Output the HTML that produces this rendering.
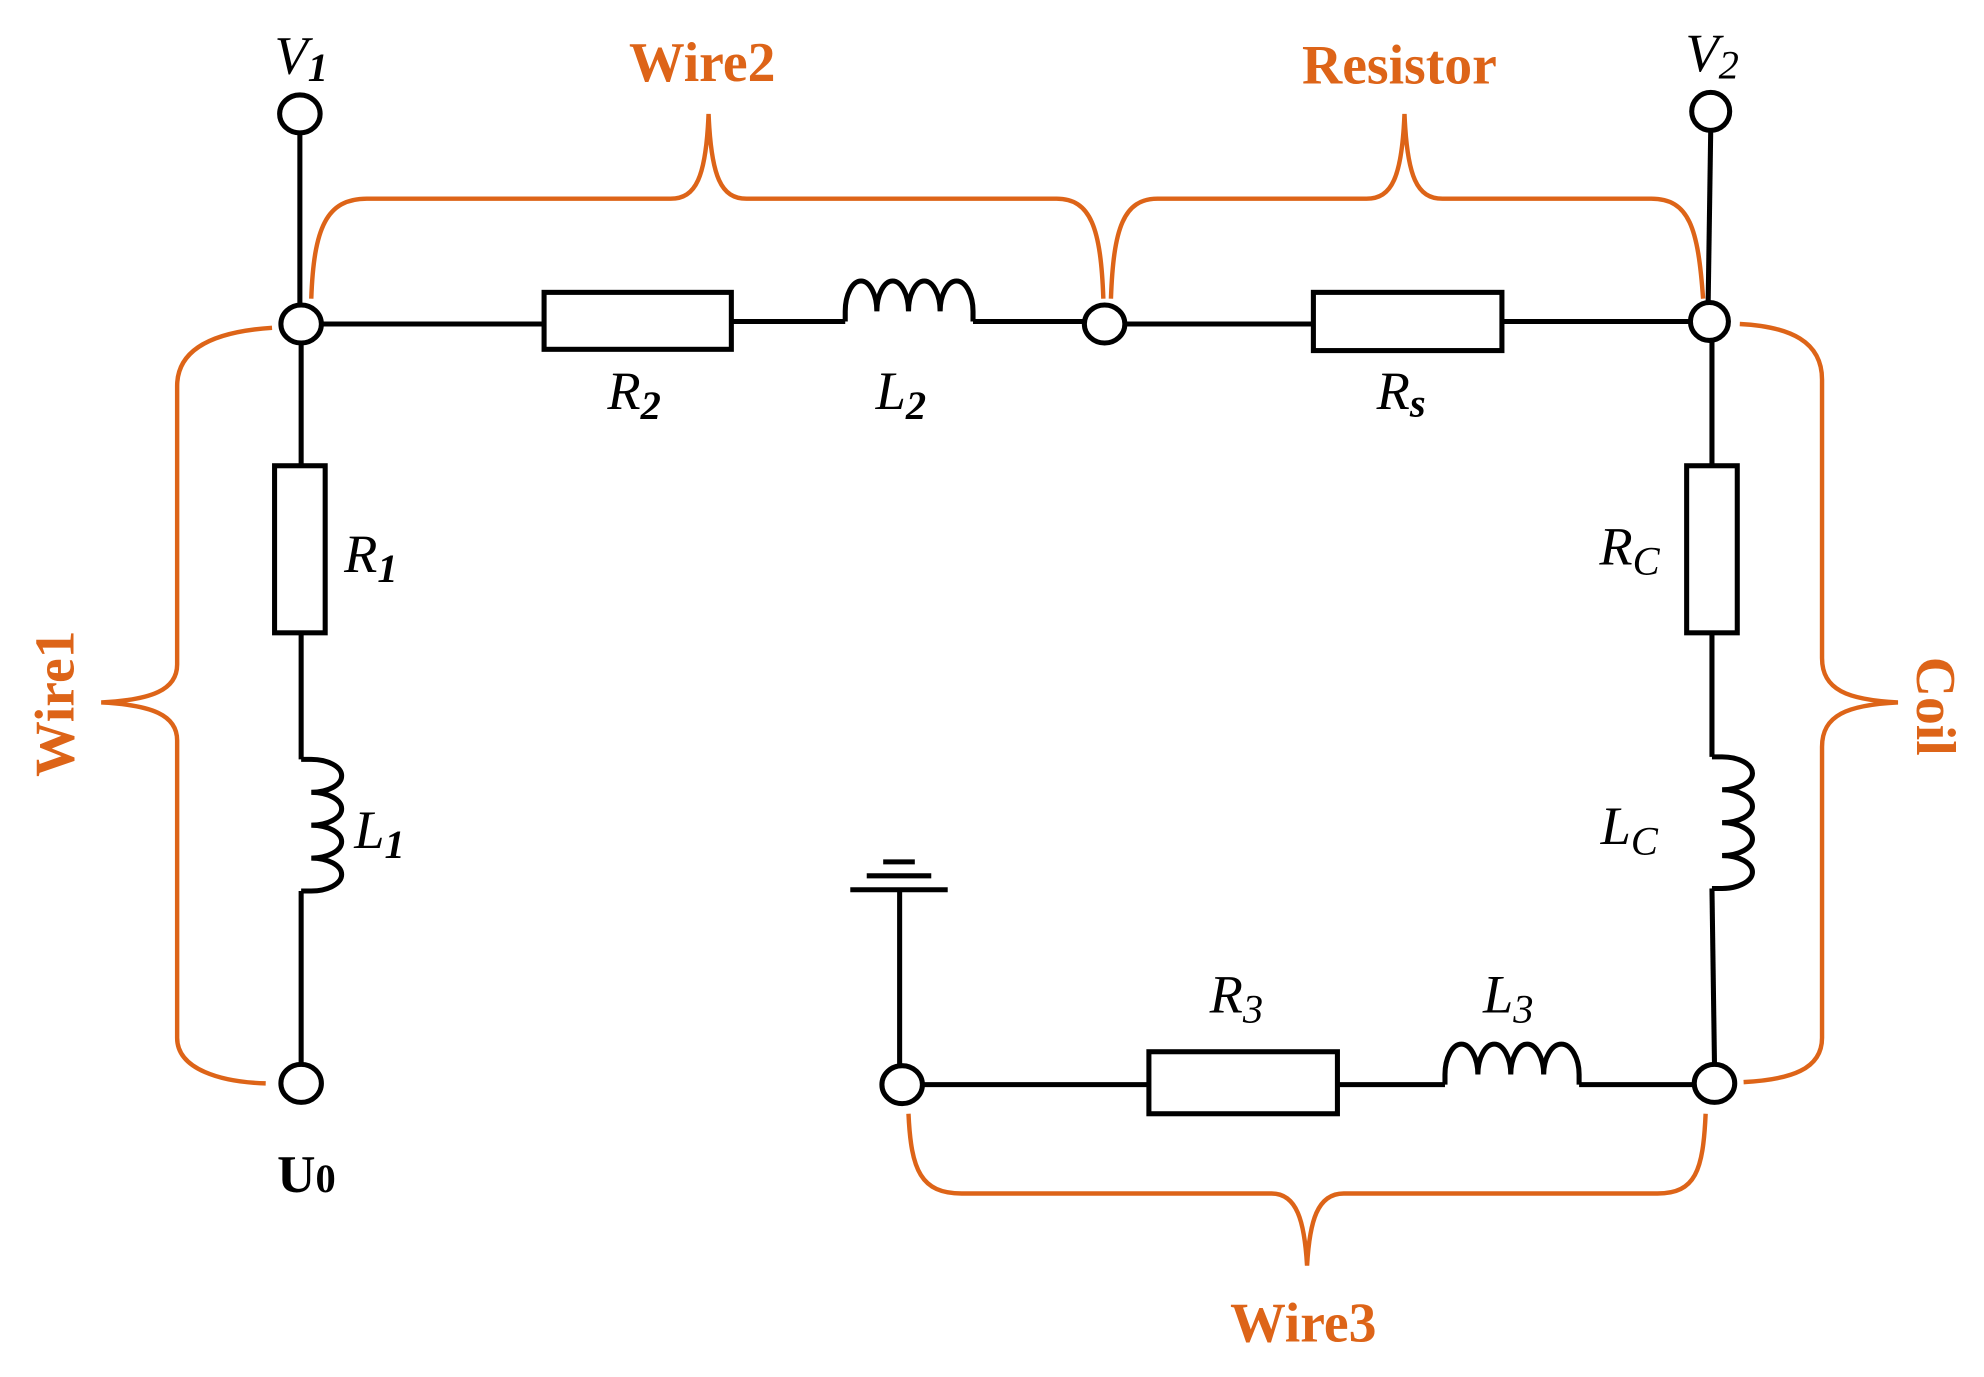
<!DOCTYPE html>
<html><head><meta charset="utf-8"><style>html,body{margin:0;padding:0;background:#fff}svg{display:block}</style></head>
<body>
<svg width="1984" height="1377" viewBox="0 0 1568 1088" preserveAspectRatio="none" xmlns="http://www.w3.org/2000/svg">
<g fill="none" stroke="#000" stroke-width="4">
<line x1="237" y1="105" x2="237" y2="241"/>
<line x1="253" y1="256" x2="430" y2="256"/>
<rect x="430" y="231" width="148" height="45"/>
<line x1="578" y1="254" x2="668" y2="254"/>
<path d="M668 254 v-8 a12.5 24 0 0 1 25 0 a12.5 24 0 0 1 25 0 a12.5 24 0 0 1 25 0 a13 24 0 0 1 26 0 v8"/>
<line x1="769" y1="254" x2="858" y2="254"/>
<line x1="888" y1="256" x2="1038" y2="256"/>
<rect x="1038" y="231" width="149" height="46"/>
<line x1="1187" y1="254" x2="1336" y2="254"/>
<line x1="1352" y1="104" x2="1350" y2="239"/>
<line x1="238" y1="272" x2="238" y2="368"/>
<rect x="217" y="368" width="40" height="132"/>
<line x1="238" y1="500" x2="238" y2="600"/>
<path d="M238 600 h8 a24 13 0 0 1 0 26 a24 13 0 0 1 0 26 a24 13 0 0 1 0 26 a24 13 0 0 1 0 26 h-8"/>
<line x1="238" y1="704" x2="238" y2="841"/>
<line x1="1353" y1="270" x2="1353" y2="368"/>
<rect x="1333" y="368" width="40" height="132"/>
<line x1="1353" y1="500" x2="1353" y2="598"/>
<path d="M1353 598 h8 a24 13 0 0 1 0 26 a24 13 0 0 1 0 26 a24 13 0 0 1 0 26 a24 13 0 0 1 0 26 h-8"/>
<line x1="1353" y1="702" x2="1355" y2="841"/>
<line x1="728" y1="857" x2="908" y2="857"/>
<rect x="908" y="831" width="149" height="49"/>
<line x1="1057" y1="857" x2="1142" y2="857"/>
<path d="M1142 857 v-8 a13 24 0 0 1 26 0 a13 24 0 0 1 26 0 a13 24 0 0 1 26 0 a14 24 0 0 1 28 0 v8"/>
<line x1="1248" y1="857" x2="1340" y2="857"/>
<line x1="711" y1="842" x2="711" y2="703"/>
<line x1="672" y1="703" x2="749" y2="703"/>
<line x1="685" y1="692" x2="736" y2="692"/>
<line x1="698" y1="681" x2="723" y2="681"/>
<g fill="#fff">
<ellipse cx="237" cy="90" rx="16" ry="15"/>
<ellipse cx="238" cy="256" rx="16" ry="15"/>
<ellipse cx="873" cy="256" rx="16" ry="15"/>
<ellipse cx="1351" cy="254" rx="15" ry="15"/>
<ellipse cx="1352" cy="88" rx="15" ry="15"/>
<ellipse cx="238" cy="856" rx="16" ry="15"/>
<ellipse cx="713" cy="857" rx="16" ry="15"/>
<ellipse cx="1355" cy="856" rx="16" ry="15"/>
</g>
</g>
<g fill="none" stroke="#dd6418" stroke-width="3.5">
<path d="M246 236 C248 180 258 157 290 157 L530 157 C550 157 558 140 560 90 C562 140 570 157 590 157 L835 157 C862 157 870 180 872 236"/>
<path d="M878 236 C880 180 888 157 915 157 L1080 157 C1100 157 1108 140 1110 90 C1112 140 1120 157 1140 157 L1305 157 C1335 157 1342 180 1346 236"/>
<path d="M215 259 C170 262 140 275 140 305 L140 525 C140 545 120 553 80 555 C120 557 140 565 140 585 L140 820 C140 845 175 855 210 856"/>
<path d="M1375 256 C1415 258 1440 270 1440 300 L1440 520 C1440 545 1460 553 1500 555 C1460 557 1440 565 1440 590 L1440 820 C1440 845 1415 853 1378 855"/>
<path d="M718 880 C720 925 728 943 760 943 L1005 943 C1025 943 1031 965 1033 1000 C1035 965 1041 943 1062 943 L1310 943 C1340 943 1346 925 1348 880"/>
</g>
<g font-family="Liberation Serif, serif" font-size="43" font-style="italic" fill="#000">
<text x="217" y="58">V<tspan font-size="32" font-weight="bold" dy="6">1</tspan></text>
<text x="1332" y="56">V<tspan font-size="32" dy="6">2</tspan></text>
<text x="480" y="323">R<tspan font-size="32" font-weight="bold" dy="8">2</tspan></text>
<text x="692" y="323">L<tspan font-size="32" font-weight="bold" dy="8">2</tspan></text>
<text x="1088" y="323">R<tspan font-size="32" font-weight="bold" dy="6">s</tspan></text>
<text x="272" y="452">R<tspan font-size="32" font-weight="bold" dy="8">1</tspan></text>
<text x="280" y="670">L<tspan font-size="32" font-weight="bold" dy="8">1</tspan></text>
<text x="1264" y="446">R<tspan font-size="32" dy="8">C</tspan></text>
<text x="1265" y="667">L<tspan font-size="32" dy="8">C</tspan></text>
<text x="956" y="800">R<tspan font-size="32" dy="8">3</tspan></text>
<text x="1172" y="800">L<tspan font-size="32" dy="8">3</tspan></text>
</g>
<text x="219" y="942" font-family="Liberation Serif, serif" font-size="42" font-weight="bold" fill="#000">U<tspan font-size="32">0</tspan></text>
<g font-family="Liberation Serif, serif" font-size="44" font-weight="bold" fill="#dd6418" text-anchor="middle">
<text x="555" y="64">Wire2</text>
<text x="1106" y="66">Resistor</text>
<text x="1030" y="1060">Wire3</text>
<text transform="translate(58,556) rotate(-90)">Wire1</text>
<text transform="translate(1515,558) rotate(90)">Coil</text>
</g>
</svg>
</body></html>
